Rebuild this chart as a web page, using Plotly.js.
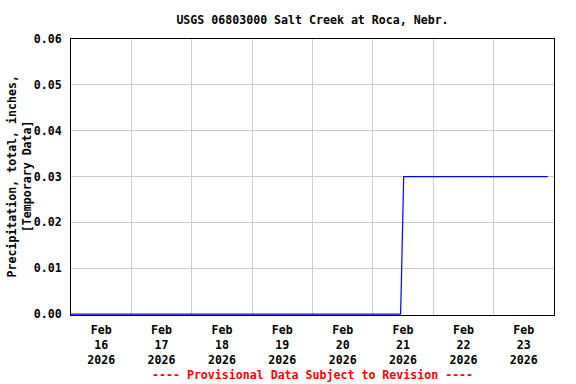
<!DOCTYPE html>
<html>
<head>
<meta charset="utf-8">
<script src="https://cdn.plot.ly/plotly-3.0.1.min.js"></script>
<style>html,body{margin:0;padding:0;background:#fff;}#chart{width:576px;height:384px;}</style>
</head>
<body>
<div id="chart"></div>
<script>
// Precipitation readings (inches) — key points
const times = [
  "2026-02-16 00:00",
  "2026-02-21 11:00",
  "2026-02-21 11:15",
  "2026-02-21 11:30",
  "2026-02-21 11:45",
  "2026-02-21 12:00",
  "2026-02-21 12:15",
  "2026-02-23 21:30"
];
const precip = [0.000, 0.000, 0.005, 0.010, 0.015, 0.025, 0.030, 0.030];

const dayTicks = ["2026-02-16 12:00","2026-02-17 12:00","2026-02-18 12:00","2026-02-19 12:00",
                  "2026-02-20 12:00","2026-02-21 12:00","2026-02-22 12:00","2026-02-23 12:00"];
const dayLabels = ["Feb<br>16<br>2026","Feb<br>17<br>2026","Feb<br>18<br>2026","Feb<br>19<br>2026",
                   "Feb<br>20<br>2026","Feb<br>21<br>2026","Feb<br>22<br>2026","Feb<br>23<br>2026"];
const dayBounds = ["2026-02-17","2026-02-18","2026-02-19","2026-02-20","2026-02-21","2026-02-22","2026-02-23"];
const yTicks = [0, 0.01, 0.02, 0.03, 0.04, 0.05, 0.06];

const fontFam = "DejaVu Sans Mono, monospace";
const fs = 11.6;

const trace = {
  x: times, y: precip, type: "scatter", mode: "lines",
  line: {color: "#0000ff", width: 1.2},
  hoverinfo: "skip"
};

const layout = {
  width: 576, height: 384,
  margin: {l: 71, r: 22, t: 39, b: 69},
  paper_bgcolor: "#fff", plot_bgcolor: "#fff",
  showlegend: false,
  font: {family: fontFam, size: fs, color: "#000", weight: "bold"},
  title: {
    text: "USGS 06803000 Salt Creek at Roca, Nebr.",
    font: {family: fontFam, size: fs, color: "#000", weight: "bold"},
    x: 0.5, xref: "paper", y: 1 - 19.5/384, yref: "container", yanchor: "middle"
  },
  xaxis: {
    type: "date",
    range: ["2026-02-16 00:00", "2026-02-24 00:00"],
    tickmode: "array", tickvals: dayTicks, ticktext: dayLabels,
    ticks: "", showgrid: false,
    minor: {tickmode: "array", tickvals: dayBounds, showgrid: true, gridcolor: "#cccccc", gridwidth: 1, ticks: ""},
    showline: true, linecolor: "#000", linewidth: 1, mirror: true,
    zeroline: false,
    tickfont: {family: fontFam, size: fs, color: "#000", weight: "bold"},
    ticklabelstandoff: 4
  },
  yaxis: {
    range: [-0.0002, 0.06],
    tickmode: "array", tickvals: yTicks, tickformat: ".2f",
    ticks: "", showgrid: true, gridcolor: "#cccccc", gridwidth: 1,
    showline: true, linecolor: "#000", linewidth: 1, mirror: true,
    zeroline: false,
    tickfont: {family: fontFam, size: fs, color: "#000", weight: "bold"},
    ticklabelstandoff: 6
  },
  annotations: [{
    text: "Precipitation, total, inches,<br>[Temporary Data]",
    xref: "paper", yref: "paper", x: (18.5 - 71) / 483, y: 0.5,
    xanchor: "center", yanchor: "middle", showarrow: false, textangle: -90,
    font: {family: fontFam, size: fs, color: "#000", weight: "bold"}
  }, {
    text: "---- Provisional Data Subject to Revision ----",
    xref: "paper", yref: "paper", x: 0.5, y: (315 - 375) / 276,
    xanchor: "center", yanchor: "middle", showarrow: false,
    font: {family: fontFam, size: fs, color: "#ff0000", weight: "bold"}
  }]
};

Plotly.newPlot("chart", [trace], layout, {staticPlot: true, displayModeBar: false});
</script>
</body>
</html>
